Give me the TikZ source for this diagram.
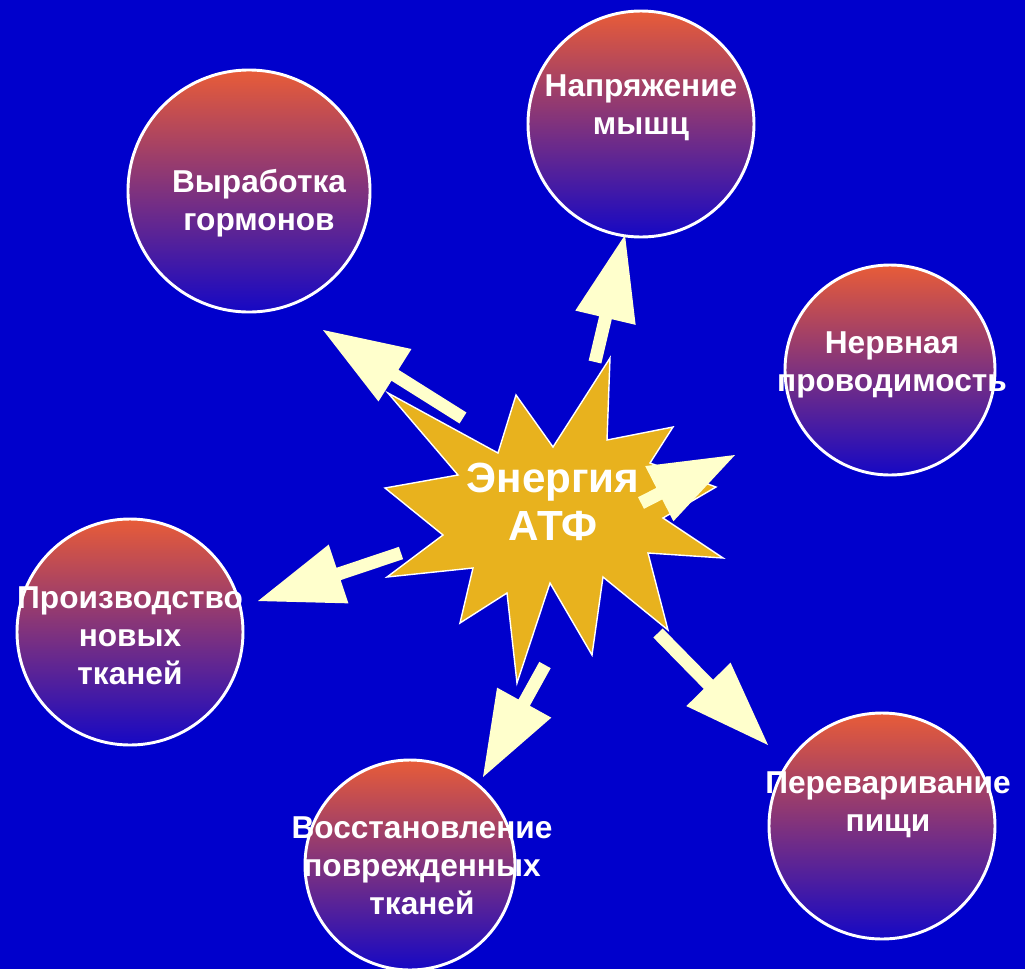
\documentclass[tikz,border=0pt]{standalone}
\usepackage{fontspec}
\setmainfont{Liberation Sans}
\usetikzlibrary{calc,positioning}

\definecolor{bgblue}{RGB}{0,0,204}
\definecolor{starfill}{RGB}{232,178,30}
\definecolor{arrowfill}{RGB}{255,255,204}
\definecolor{ctop}{RGB}{232,92,56}
\definecolor{cbot}{RGB}{22,8,196}

\begin{document}
\begin{tikzpicture}[x=0.03cm,y=0.03cm]
\tikzstyle{every node}+=[inner sep=0pt]
\tikzstyle{bubble}=[circle,draw=white,line width=2.5pt,top color=ctop,bottom color=cbot]
\tikzstyle{bubtext}=[text=white,align=center,font=\fontsize{27}{32.4}\selectfont\bfseries]
\tikzstyle{bigtext}=[text=white,align=center,font=\fontsize{36}{41}\selectfont\bfseries]
\fill [bgblue] (0,0) rectangle (1025,-969);
\useasboundingbox (0,0) rectangle (1025,-969);
% circles
\node [bubble,minimum size=7.26cm] (horm) at (249,-191) {};
\node [bubble,minimum size=6.78cm] (muscle) at (641,-124) {};
\node [bubble,minimum size=6.3cm] (nerve) at (890,-370) {};
\node [bubble,minimum size=6.78cm] (tissue) at (130,-632) {};
\node [bubble,minimum size=6.3cm] (repair) at (410,-865) {};
\node [bubble,minimum size=6.78cm] (digest) at (882,-826) {};
\node [bubtext] (horm-txt) at (259,-203) {Выработка\\гормонов};
\node [bubtext] (muscle-txt) at (641,-108) {Напряжение\\мышц};
\node [bubtext] (nerve-txt) at (892,-365) {Нервная\\проводимость};
\node [bubtext] (tissue-txt) at (130,-636) {Производство\\новых\\тканей};
\node [bubtext] (repair-txt) at (422,-866) {Восстановление\\поврежденных\\тканей};
\node [bubtext] (digest-txt) at (888,-805) {Переваривание\\пищи};
% star
\draw [white,line width=1.2pt,fill=starfill] (388,-393) -- (498,-453) -- (516,-395)
  -- (553,-447) -- (610,-358) -- (607,-440) -- (673,-427) -- (650,-463)
  -- (716,-487) -- (663,-518) -- (723,-558) -- (648,-553) -- (668,-630)
  -- (603,-577) -- (592,-655) -- (550,-583) -- (517,-683) -- (507,-593)
  -- (460,-623) -- (473,-568) -- (387,-577) -- (443,-535) -- (385,-488)
  -- (458,-475) -- cycle;
\node [bigtext] (atp) at (553,-502) {Энергия\\АТФ};
% arrows
\coordinate (a1) at (463,-418); \coordinate (b1) at (323,-330);
\coordinate (a2) at (595,-362); \coordinate (b2) at (625,-235);
\coordinate (a3) at (641,-503); \coordinate (b3) at (735,-455);
\coordinate (a4) at (401,-553); \coordinate (b4) at (258,-601);
\coordinate (a5) at (545,-665); \coordinate (b5) at (483,-777);
\coordinate (a6) at (658,-633); \coordinate (b6) at (768,-745);
\foreach \i in {1,...,6} {
  \coordinate (c\i) at ($(b\i)!2.55cm!(a\i)$);
  \fill [arrowfill] ($(a\i)!0.195cm!90:(b\i)$) -- ($(c\i)!0.195cm!90:(b\i)$)
    -- ($(c\i)!0.93cm!90:(b\i)$) -- (b\i) -- ($(c\i)!0.93cm!-90:(b\i)$)
    -- ($(c\i)!0.195cm!-90:(b\i)$) -- ($(a\i)!0.195cm!-90:(b\i)$) -- cycle;
}
\end{tikzpicture}
\end{document}
